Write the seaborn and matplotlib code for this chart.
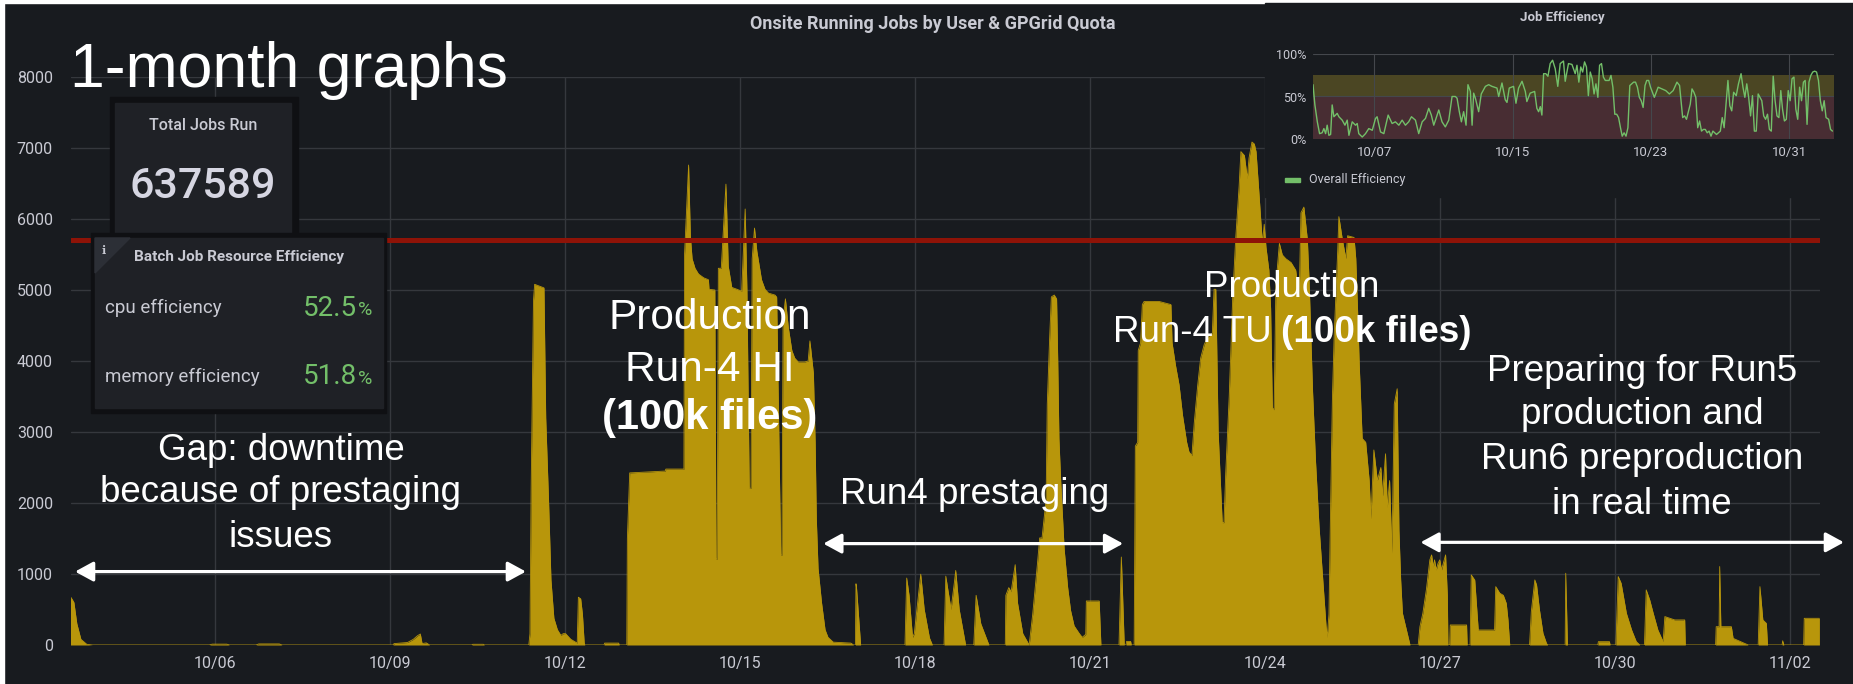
import matplotlib
matplotlib.use("Agg")
import matplotlib.pyplot as plt
from matplotlib.patches import Rectangle, Polygon
import numpy as np
import pandas as pd
import seaborn as sns

# Onsite running jobs: day of October (fractional) and number of running jobs
job_days = [
    3.50, 3.51, 3.53, 3.58, 3.63, 3.70, 3.80, 3.90,
    5.90, 5.95, 6.20, 6.25, 6.70, 6.75, 7.10, 7.15,
    9.05, 9.07, 9.30, 9.40, 9.47, 9.52, 9.55, 9.62, 9.68, 10.40, 10.42, 10.60, 10.62,
    # 10/11 spike
    11.38, 11.40, 11.42, 11.46, 11.48, 11.64, 11.67, 11.72, 11.76, 11.81,
    11.87, 11.93, 11.97, 12.01, 12.10, 12.21, 12.23, 12.27, 12.30, 12.33,
    12.34, 12.67, 12.68, 12.92, 12.93,
    # Run-4 HI production
    13.06, 13.07, 13.11, 13.72, 13.73, 14.04, 14.05, 14.12, 14.15, 14.18,
    14.23, 14.29, 14.38, 14.46, 14.47, 14.57, 14.59, 14.61, 14.63, 14.68,
    14.76, 14.80, 14.86, 14.95, 15.03, 15.09, 15.12, 15.16, 15.19, 15.21,
    15.25, 15.29, 15.37, 15.43, 15.49, 15.60, 15.63, 15.70, 15.72, 15.74,
    15.78, 15.83, 15.89, 15.94, 16.00, 16.11, 16.17, 16.20, 16.26, 16.29,
    16.31, 16.34, 16.40, 16.46, 16.51, 16.60, 16.90, 16.95,
    # Run4 prestaging
    16.98, 16.99, 17.00, 17.07,
    17.83, 17.86, 17.90, 17.96, 17.99, 18.06, 18.10, 18.16, 18.25, 18.30,
    18.50, 18.53, 18.56, 18.62, 18.68, 18.70, 18.76, 18.87,
    19.01, 19.05, 19.13, 19.27,
    19.55, 19.56, 19.61, 19.65, 19.72, 19.76, 19.85, 19.96,
    20.02, 20.10, 20.14, 20.18, 20.25, 20.27, 20.31, 20.34, 20.39, 20.43,
    20.45, 20.47, 20.50, 20.56, 20.62, 20.67, 20.73, 20.82, 20.87, 20.93,
    20.94, 21.16, 21.19,
    21.50, 21.54, 21.59, 21.62, 21.63, 21.70, 21.71,
    # Run-4 TU production
    21.76, 21.78, 21.82, 21.83, 21.87, 21.90, 21.93, 22.19, 22.39, 22.41,
    22.47, 22.53, 22.59, 22.66, 22.70, 22.75, 22.79, 22.85, 22.90, 22.96,
    23.02, 23.10, 23.13, 23.16, 23.20, 23.27, 23.30, 23.33, 23.39, 23.45,
    23.50, 23.56, 23.59, 23.65, 23.70, 23.73, 23.78, 23.82, 23.85, 23.90,
    23.93, 23.96, 23.99, 24.02, 24.07, 24.10, 24.13, 24.16, 24.19, 24.25,
    24.30, 24.36, 24.45, 24.53, 24.59, 24.62, 24.67, 24.73, 24.76, 24.82,
    24.87, 24.93, 24.99, 25.05, 25.07, 25.10, 25.13, 25.16, 25.19, 25.25,
    25.27, 25.33, 25.39, 25.42, 25.53, 25.56, 25.59, 25.62, 25.67, 25.73,
    25.79, 25.82, 25.87, 25.93, 25.99, 26.02, 26.07, 26.10, 26.14, 26.18,
    26.22, 26.27, 26.30, 26.33, 26.36, 26.49,
    # Run5 / Run6 preparation
    26.63, 26.66, 26.71, 26.77, 26.83, 26.86, 26.89, 26.91, 26.94, 26.97,
    27.00, 27.03, 27.06, 27.10, 27.13, 27.14,
    27.17, 27.18, 27.46, 27.47,
    27.52, 27.54, 27.60, 27.66, 27.70, 27.94, 27.96, 28.03, 28.09, 28.14, 28.17, 28.20,
    28.54, 28.57, 28.63, 28.66, 28.71, 28.77, 28.83, 28.85,
    29.15, 29.16, 29.19,
    29.71, 29.72, 29.91, 29.92,
    30.02, 30.06, 30.11, 30.20, 30.29, 30.37, 30.43,
    30.51, 30.54, 30.60, 30.66, 30.74, 30.83, 30.86, 31.03, 31.20, 31.21,
    31.73, 31.74, 31.79, 31.80, 31.82, 32.00, 32.03, 32.29,
    32.46, 32.49, 32.54, 32.60, 32.62,
    32.87, 32.88, 32.90,
    33.24, 33.25, 33.51,
]
job_counts = [
    0, 620, 670, 600, 300, 80, 10, 0,
    0, 12, 12, 0, 0, 15, 15, 0,
    0, 20, 35, 80, 130, 155, 20, 30, 0, 0, 10, 10, 0,
    0, 160, 2210, 4850, 5080, 5030, 3200, 2000, 915, 377,
    215, 135, 160, 160, 80, 27, 673, 650, 430, 27,
    0, 0, 27, 27, 0,
    0, 1500, 2424, 2450, 2478, 2478, 5495, 6760, 5764, 5440,
    5306, 5225, 5171, 5145, 5010, 5000, 1212, 1212, 5306, 5306,
    6491, 5333, 5037, 5010, 4983, 6141, 5000, 2208, 2208, 5440,
    5872, 5548, 5145, 5010, 4956, 4929, 4900, 1266, 1266, 4579,
    4875, 4471, 4148, 4040, 3986, 3986, 4000, 4283, 3825, 2855,
    1778, 1077, 593, 215, 108, 40, 27, 0,
    0, 862, 800, 0,
    0, 943, 700, 108, 160, 700, 997, 500, 100, 0,
    0, 970, 807, 500, 900, 1050, 500, 0,
    0, 700, 300, 0,
    0, 700, 808, 750, 1131, 593, 160, 0,
    431, 1131, 1508, 1508, 2047, 3394, 4310, 4902, 4929, 4875,
    3986, 2909, 2316, 1347, 808, 485, 270, 160, 108, 150,
    620, 620, 0,
    0, 1239, 0, 0, 50, 50, 0,
    0, 2801, 2855, 4148, 4256, 4795, 4838, 4838, 4795, 4256,
    3933, 3663, 3232, 2855, 2720, 2667, 3124, 3663, 4040, 4229,
    4337, 4390, 5010, 5010, 3000, 1724, 1724, 2424, 3502, 4902,
    5710, 6464, 6949, 6895, 6572, 6860, 7084, 7057, 6949, 6357,
    5980, 5656, 5926, 5602, 5279, 4741, 3340, 3313, 5064, 5656,
    5495, 5441, 5387, 5279, 4902, 6087, 6168, 5710, 5118, 3556,
    2586, 1670, 970, 270, 108, 431, 2047, 3502, 4363, 5549,
    6033, 5710, 5441, 5764, 5740, 5441, 4741, 3933, 2909, 2855,
    2316, 1778, 2747, 2316, 2500, 2100, 2693, 1939, 2316, 1293,
    3394, 3609, 1620, 917, 447, 0,
    0, 258, 447, 776, 1199, 1269, 1100, 1199, 1058, 1150,
    1199, 1058, 1150, 1269, 700, 0,
    0, 282, 282, 0,
    0, 987, 915, 211, 211, 211, 822, 729, 700, 588, 353, 0,
    0, 470, 917, 846, 493, 165, 23, 0,
    0, 1011, 0,
    0, 47, 47, 0,
    0, 964, 870, 447, 211, 47, 0,
    0, 776, 635, 447, 211, 47, 400, 353, 353, 0,
    0, 258, 258, 1105, 258, 258, 94, 0,
    0, 822, 353, 305, 0,
    0, 60, 0,
    0, 376, 376,
]
assert len(job_days) == len(job_counts)

gpgrid_quota = 5700
tick_days = [6, 9, 12, 15, 18, 21, 24, 27, 30, 33]

# Job efficiency inset (percent)
eff_days = [
    3.44, 3.55, 3.69, 3.82, 3.97, 4.07, 4.17, 4.26, 4.36, 4.46,
    4.55, 4.65, 4.84, 4.94, 5.13, 5.29, 5.42, 5.52, 5.71, 5.90,
    6.00, 6.09, 6.29, 6.48, 6.67, 6.87, 7.06, 7.15, 7.35, 7.54,
    7.79, 8.02, 8.21, 8.41, 8.60, 8.79, 8.98, 9.14, 9.37, 9.56,
    9.76, 9.95, 10.14, 10.29, 10.43, 10.53, 10.72, 10.91, 11.10, 11.30,
    11.49, 11.68, 11.78, 11.91, 12.03, 12.16, 12.30, 12.41, 12.55, 12.65,
    12.74, 12.84, 13.03, 13.18, 13.42, 13.61, 13.80, 14.09, 14.19, 14.38,
    14.57, 14.67, 14.80, 15.05, 15.19, 15.34, 15.54, 15.73, 15.82, 16.01,
    16.27, 16.40, 16.50, 16.60, 16.69, 16.79, 16.92, 17.04, 17.17, 17.31,
    17.46, 17.61, 17.75, 17.94, 18.04, 18.23, 18.43, 18.62,
    18.72, 18.83, 18.94, 19.05, 19.16, 19.27, 19.38, 19.49, 19.60, 19.71,
    19.82, 19.93, 20.03, 20.14, 20.25, 20.36, 20.58, 20.69, 20.80, 20.91,
    21.02, 21.13, 21.24, 21.34, 21.45, 21.56, 21.67, 21.78, 22.00, 22.11,
    22.22, 22.33, 22.44, 22.55, 22.66, 22.76, 22.87, 22.98, 23.20, 23.31,
    23.42, 23.64, 23.86, 24.07, 24.29, 24.51, 24.66, 24.84, 24.95, 25.06,
    25.28, 25.38, 25.49, 25.60, 25.71, 25.82, 25.93, 26.04, 26.15, 26.26,
    26.37, 26.48, 26.59, 26.80, 26.91, 27.02, 27.13, 27.24, 27.46, 27.57,
    27.68, 27.79, 27.94, 28.07, 28.22, 28.33, 28.44, 28.55, 28.66, 28.77,
    28.88, 28.99, 29.10, 29.21, 29.42, 29.53, 29.64, 29.75, 29.86, 29.97,
    30.08, 30.19, 30.30, 30.41, 30.52, 30.62, 30.73, 30.84, 30.95, 31.06,
    31.17, 31.28, 31.39, 31.50, 31.61, 31.72, 31.83, 31.93, 32.04, 32.15,
    32.26, 32.37, 32.48, 32.59, 32.70, 32.81, 32.92, 33.03, 33.14, 33.29,
    33.40, 33.51,
]
eff_pct = [
    64, 40, 20, 6, 7, 12, 6, 16, 4, 5,
    40, 26, 30, 26, 22, 16, 22, 4, 20, 16,
    18, 6, 2, 6, 12, 10, 24, 26, 8, 6,
    28, 18, 20, 16, 22, 16, 20, 26, 22, 6,
    20, 24, 36, 28, 16, 22, 34, 20, 14, 22,
    50, 50, 48, 32, 20, 32, 16, 64, 56, 16,
    54, 48, 32, 53, 62, 64, 62, 60, 50, 66,
    46, 43, 60, 62, 42, 60, 68, 56, 44, 54,
    56, 36, 32, 38, 28, 77, 77, 74, 89, 93,
    83, 62, 89, 92, 68, 89, 88, 77,
    87, 67, 85, 79, 91, 85, 51, 79, 71, 53,
    65, 49, 87, 89, 73, 69, 69, 75, 61, 29,
    29, 25, 13, 3, 7, 3, 13, 63, 67, 67,
    61, 49, 45, 37, 63, 69, 69, 61, 49, 55,
    61, 59, 57, 53, 57, 67, 63, 25, 27, 23,
    41, 59, 55, 49, 13, 21, 9, 11, 11, 7,
    9, 3, 9, 5, 7, 9, 25, 13, 69, 39,
    33, 55, 51, 65, 77, 61, 49, 65, 49, 27,
    51, 9, 9, 53, 45, 27, 23, 29, 11, 9,
    74, 45, 27, 25, 57, 35, 21, 23, 57, 45,
    71, 73, 35, 23, 61, 45, 67, 69, 17, 67,
    75, 79, 80, 79, 69, 45, 33, 45, 25, 23,
    11, 9,
]
assert len(eff_days) == len(eff_pct)
eff_tick_days = [7, 15, 23, 31]

total_jobs = "637589"
cpu_eff = "52.5"
mem_eff = "51.8"

# colours
BG = "#181b1f"
PANEL = "#1f2126"
BORDER = "#0f1013"
GRID = "#35383d"
GOLD = "#b8960b"
QUOTA_RED = "#8e1307"
TXT = "#c9cad3"
GREEN = "#73bf69"

W, H = 1853, 684

sns.set_style("dark", {"axes.facecolor": BG, "figure.facecolor": BG,
                       "grid.color": GRID, "axes.edgecolor": BG})
plt.rcParams["font.family"] = ["Roboto", "DejaVu Sans"]

base = pd.Timestamp("2021-10-01")


def day_label(d):
    return (base + pd.Timedelta(days=d - 1)).strftime("%m/%d")


fig = plt.figure(figsize=(W / 100, H / 100), dpi=100)
fig.patch.set_facecolor(BG)

# main panel: running jobs
ax = fig.add_axes([71 / W, 1 - 645 / H, (1820 - 71) / W, (645 - 77) / H], zorder=1)
ax.set_facecolor(BG)
ax.fill_between(job_days, job_counts, 0, color=GOLD, lw=0, zorder=2)
sns.lineplot(x=job_days, y=job_counts, ax=ax, color=GOLD, lw=0.6,
             estimator=None, sort=False, zorder=2)
ax.axhline(gpgrid_quota, color=QUOTA_RED, lw=3.6, zorder=3)
ax.set_xlim(3.53, 33.52)
ax.set_ylim(0, 8000)
ax.set_yticks(range(0, 8001, 1000))
ax.set_xticks(tick_days)
ax.set_xticklabels([day_label(d) for d in tick_days])
ax.grid(True, color=GRID, lw=1)
ax.set_axisbelow(True)
for s in ax.spines.values():
    s.set_visible(False)
ax.tick_params(axis="y", colors=TXT, labelsize=11.5, length=0, pad=13)
ax.tick_params(axis="x", colors=TXT, labelsize=11.5, length=0, pad=8)
ax.set_xlabel("")
ax.set_ylabel("")

# arrows for the periods
arrow = dict(arrowstyle="<|-|>,head_length=0.55,head_width=0.3", color="white",
             lw=2.3, shrinkA=0, shrinkB=0, mutation_scale=20)
ax.annotate("", xy=(3.60, 1034), xytext=(11.33, 1034), arrowprops=arrow,
            annotation_clip=False, zorder=6)
ax.annotate("", xy=(16.43, 1428), xytext=(21.57, 1428), arrowprops=arrow,
            annotation_clip=False, zorder=6)
ax.annotate("", xy=(26.67, 1446), xytext=(33.93, 1446), arrowprops=arrow,
            annotation_clip=False, zorder=6)

# overlay in pixel coordinates for the dashboard panels and the notes
ov = fig.add_axes([0, 0, 1, 1], zorder=2)
ov.set_xlim(0, W)
ov.set_ylim(H, 0)
ov.axis("off")
ov.patch.set_visible(False)

ov.add_patch(Rectangle((0, 0), W, 3, color="white"))
ov.add_patch(Rectangle((0, 0), 4, H, color="white"))

ov.text(933, 24, "Onsite Running Jobs by User & GPGrid Quota", color=TXT,
        fontsize=13, fontweight="bold", ha="center", va="center")

# Total Jobs Run stat panel
ov.add_patch(Rectangle((110, 97), 188, 142, color=BORDER))
ov.add_patch(Rectangle((115, 103), 176, 130, color=PANEL))
ov.text(203, 125, "Total Jobs Run", color=TXT, fontsize=11.5,
        fontweight="medium", ha="center", va="center")
ov.text(203, 187, total_jobs, color="#d6d6e2", fontsize=31,
        fontweight="medium", ha="center", va="center")

# Batch job resource efficiency panel
ov.add_patch(Rectangle((91, 233), 295, 180, color=BORDER))
ov.add_patch(Rectangle((95, 238), 288, 170, color=PANEL))
ov.add_patch(Polygon([(95, 238), (130, 238), (95, 273)], color="#2c2f36"))
ov.text(104, 250, "i", color=TXT, fontsize=8, fontweight="bold",
        family="DejaVu Serif", ha="center", va="center")
ov.text(239, 257, "Batch Job Resource Efficiency", color=TXT, fontsize=11,
        fontweight="bold", ha="center", va="center")
for y, name, val in [(308, "cpu efficiency", cpu_eff), (377, "memory efficiency", mem_eff)]:
    ov.text(105, y, name, color=TXT, fontsize=13.5, ha="left", va="center")
    ov.text(357, y, val, color=GREEN, fontsize=20, ha="right", va="center")
    ov.text(358, y + 2, "%", color=GREEN, fontsize=14, ha="left", va="center")

# inset panel background (hides main grid)
ov.add_patch(Rectangle((1265, 3), W - 1265, 194, color=BG))
ov.text(1562, 18, "Job Efficiency", color=TXT, fontsize=9.5,
        fontweight="bold", ha="center", va="center")
ov.add_patch(Rectangle((1285, 178), 15, 4, color=GREEN))
ov.text(1309, 180, "Overall Efficiency", color=TXT, fontsize=9,
        ha="left", va="center")

# annotations
NOTE = ["Liberation Sans", "DejaVu Sans"]
ov.text(70, 87, "1-month graphs", color="white", fontsize=45, family=NOTE,
        ha="left", va="baseline")
for y, line in [(460, "Gap: downtime"), (502, "because of prestaging"), (547, "issues")]:
    ov.text(281, y, line, color="white", fontsize=26.5, family=NOTE,
            ha="center", va="baseline")
ov.text(710, 329, "Production", color="white", fontsize=30.5, family=NOTE,
        ha="center", va="baseline")
ov.text(710, 381, "Run-4 HI", color="white", fontsize=30.5, family=NOTE,
        ha="center", va="baseline")
ov.text(710, 429, "(100k files)", color="white", fontsize=30, family=NOTE,
        fontweight="bold", ha="center", va="baseline")
ov.text(975, 504, "Run4 prestaging", color="white", fontsize=26.5, family=NOTE,
        ha="center", va="baseline")
ov.text(1292, 297, "Production", color="white", fontsize=26.5, family=NOTE,
        ha="center", va="baseline")
ov.text(1272, 342, "Run-4 TU", color="white", fontsize=26.5, family=NOTE,
        ha="right", va="baseline")
ov.text(1281, 342, "(100k files)", color="white", fontsize=26.5, family=NOTE,
        fontweight="bold", ha="left", va="baseline")
for y, line in [(381, "Preparing for Run5"), (424, "production and"),
                (469, "Run6 preproduction"), (514, "in real time")]:
    ov.text(1642, y, line, color="white", fontsize=26.5, family=NOTE,
            ha="center", va="baseline")

# inset: job efficiency
ax2 = fig.add_axes([1313 / W, 1 - 138.7 / H, 521 / W, 84.4 / H], zorder=3)
ax2.set_facecolor(BG)
ax2.axhspan(0, 50, color="#482d33", lw=0, zorder=0)
ax2.axhspan(50, 75, color="#4b4623", lw=0, zorder=0)
sns.lineplot(x=eff_days, y=eff_pct, ax=ax2, color=GREEN, lw=1.0,
             estimator=None, sort=False, zorder=3)
ax2.set_xlim(3.44, 33.6)
ax2.set_ylim(0, 100)
ax2.set_yticks([0, 50, 100])
ax2.set_yticklabels(["0%", "50%", "100%"])
ax2.set_xticks(eff_tick_days)
ax2.set_xticklabels([day_label(d) for d in eff_tick_days])
for v in [0, 50, 100]:
    ax2.axhline(v, color="#44474c", lw=0.8, zorder=1)
for d in eff_tick_days:
    ax2.axvline(d, color="#44474c", lw=0.8, zorder=1)
ax2.grid(False)
for s in ax2.spines.values():
    s.set_visible(False)
ax2.tick_params(axis="y", colors=TXT, labelsize=9, length=0, pad=5)
ax2.tick_params(axis="x", colors=TXT, labelsize=9.5, length=0, pad=5)
ax2.set_xlabel("")
ax2.set_ylabel("")

fig.savefig("out.png", dpi=100, facecolor=BG)
